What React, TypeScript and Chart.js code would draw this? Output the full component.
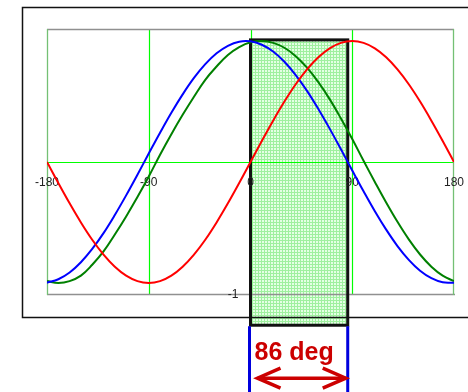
import React, { useEffect, useRef } from "react";
import { Chart, registerables } from "chart.js";

Chart.register(...registerables);

// Phase angle in degrees
const angles = [
  -180, -170, -160, -150, -140, -130, -120, -110, -100, -90, -80, -70, -60, -50, -40, -30, -20, -10,
  0, 10, 20, 30, 40, 50, 60, 70, 80, 90, 100, 110, 120, 130, 140, 150, 160, 170, 180,
];

// Reference wave (red)
const sineValues = [
  0, -0.174, -0.342, -0.5, -0.643, -0.766, -0.866, -0.94, -0.985, -1, -0.985, -0.94, -0.866, -0.766,
  -0.643, -0.5, -0.342, -0.174, 0, 0.174, 0.342, 0.5, 0.643, 0.766, 0.866, 0.94, 0.985, 1, 0.985,
  0.94, 0.866, 0.766, 0.643, 0.5, 0.342, 0.174, 0,
];

// Leading wave (blue)
const leadValues = [
  -0.998, -0.97, -0.914, -0.829, -0.719, -0.588, -0.438, -0.276, -0.105, 0.07, 0.242, 0.407, 0.559,
  0.695, 0.809, 0.899, 0.961, 0.995, 0.998, 0.97, 0.914, 0.829, 0.719, 0.588, 0.438, 0.276, 0.105,
  -0.07, -0.242, -0.407, -0.559, -0.695, -0.809, -0.899, -0.961, -0.995, -0.998,
];

// Lagging wave (green)
const lagValues = [
  -0.985, -1, -0.985, -0.94, -0.85, -0.74, -0.6, -0.45, -0.29, -0.12, 0.06, 0.23, 0.39, 0.54, 0.68,
  0.79, 0.885, 0.95, 0.99, 1, 0.985, 0.945, 0.875, 0.78, 0.66, 0.52, 0.36, 0.19, 0.01, -0.165, -0.335,
  -0.495, -0.64, -0.765, -0.866, -0.94, -0.985,
];

const xTickLabels = [-180, -90, 0, 90, 180];
const xGridLines = [-90, 0, 90];
const yGridLines = [0];
const xMin = -180;
const xMax = 180;
const yMin = -1.1;
const yMax = 1.1;

// Highlighted phase window
const windowStart = 0;
const windowEnd = 86;
const windowTop = 1.01;
const windowBottom = -1.35;
const windowLabel = "86 deg";

const LABEL_FONT = '12px "Liberation Sans", Arial, sans-serif';

function makeHatch(ctx: CanvasRenderingContext2D): CanvasPattern | string {
  const tile = document.createElement("canvas");
  tile.width = 3;
  tile.height = 3;
  const t = tile.getContext("2d");
  if (!t) return "#ccf8cc";
  t.fillStyle = "#e4ffe4";
  t.fillRect(0, 0, 3, 3);
  t.fillStyle = "#9ff09f";
  t.fillRect(0, 0, 3, 1);
  t.fillRect(0, 0, 1, 3);
  return ctx.createPattern(tile, "repeat") || "#ccf8cc";
}

const backgroundPlugin = {
  id: "phaseBackground",
  beforeDatasetsDraw(chart: any) {
    const { ctx, chartArea } = chart;
    const xs = chart.scales.x;
    const ys = chart.scales.y;
    const { left, right, top, bottom } = chartArea;
    const x0 = xs.getPixelForValue(windowStart);
    const x1 = xs.getPixelForValue(windowEnd);
    const yT = ys.getPixelForValue(windowTop);
    const yB = ys.getPixelForValue(windowBottom);

    ctx.save();
    // hatched window
    ctx.fillStyle = makeHatch(ctx);
    ctx.fillRect(x0, yT, x1 - x0, yB - yT);

    // grid
    ctx.strokeStyle = "#00ff00";
    ctx.lineWidth = 1.2;
    xGridLines.forEach((v) => {
      const px = Math.round(xs.getPixelForValue(v)) + 0.5;
      ctx.beginPath();
      ctx.moveTo(px, top);
      ctx.lineTo(px, bottom);
      ctx.stroke();
    });
    yGridLines.forEach((v) => {
      const py = Math.round(ys.getPixelForValue(v)) + 0.5;
      ctx.beginPath();
      ctx.moveTo(left, py);
      ctx.lineTo(right, py);
      ctx.stroke();
    });

    // plot border
    ctx.strokeStyle = "#909090";
    ctx.lineWidth = 1.3;
    ctx.beginPath();
    ctx.moveTo(left, Math.round(top) + 0.5);
    ctx.lineTo(right, Math.round(top) + 0.5);
    ctx.moveTo(left, Math.round(bottom) - 0.5);
    ctx.lineTo(right + 1, Math.round(bottom) - 0.5);
    ctx.stroke();
    ctx.strokeStyle = "#74c074";
    ctx.beginPath();
    ctx.moveTo(Math.round(left) + 0.5, top);
    ctx.lineTo(Math.round(left) + 0.5, bottom);
    ctx.moveTo(Math.round(right) - 0.5, top);
    ctx.lineTo(Math.round(right) - 0.5, bottom);
    ctx.stroke();

    // outer frame
    ctx.strokeStyle = "#111111";
    ctx.lineWidth = 1.5;
    ctx.beginPath();
    ctx.moveTo(chart.width + 2, 7.5);
    ctx.lineTo(22.5, 7.5);
    ctx.lineTo(22.5, 317.5);
    ctx.lineTo(chart.width + 2, 317.5);
    ctx.stroke();

    // window outline
    ctx.strokeStyle = "#111111";
    ctx.lineWidth = 3;
    ctx.strokeRect(x0, yT, x1 - x0, yB - yT);

    // tick labels
    ctx.fillStyle = "#222222";
    ctx.font = LABEL_FONT;
    ctx.textAlign = "center";
    ctx.textBaseline = "middle";
    const labelY = ys.getPixelForValue(0) + 21;
    xTickLabels.forEach((v) => {
      ctx.fillText(String(v), xs.getPixelForValue(v), labelY);
    });
    ctx.textAlign = "right";
    ctx.fillText(String(Math.trunc(yMin)), xs.getPixelForValue(0) - 12, ys.getPixelForValue(yMin));
    ctx.restore();
  },
  afterDatasetsDraw(chart: any) {
    const { ctx } = chart;
    const xs = chart.scales.x;
    const ys = chart.scales.y;
    const x0 = xs.getPixelForValue(windowStart);
    const x1 = xs.getPixelForValue(windowEnd);
    const yB = ys.getPixelForValue(windowBottom);

    ctx.save();
    // span markers
    ctx.strokeStyle = "#0000dd";
    ctx.lineWidth = 3;
    ctx.beginPath();
    ctx.moveTo(x0 - 1, yB + 1);
    ctx.lineTo(x0 - 1, chart.height + 2);
    ctx.moveTo(x1, yB + 1);
    ctx.lineTo(x1, chart.height + 2);
    ctx.stroke();

    // span label
    ctx.fillStyle = "#cc0000";
    ctx.font = 'bold 25px "Liberation Sans", Arial, sans-serif';
    ctx.textAlign = "left";
    ctx.textBaseline = "alphabetic";
    ctx.fillText(windowLabel, x0 + 4, yB + 35);

    // double arrow
    const ay = yB + 53;
    const ax0 = x0 + 7;
    const ax1 = x1 - 2;
    ctx.strokeStyle = "#cc0000";
    ctx.lineWidth = 3.5;
    ctx.lineCap = "butt";
    ctx.lineJoin = "miter";
    ctx.beginPath();
    ctx.moveTo(ax0, ay);
    ctx.lineTo(ax1, ay);
    ctx.stroke();
    ctx.beginPath();
    ctx.moveTo(ax0 + 23, ay - 10);
    ctx.lineTo(ax0, ay);
    ctx.lineTo(ax0 + 23, ay + 10);
    ctx.moveTo(ax1 - 23, ay - 10);
    ctx.lineTo(ax1, ay);
    ctx.lineTo(ax1 - 23, ay + 10);
    ctx.stroke();
    ctx.restore();
  },
};

export default function App() {
  const canvasRef = useRef<HTMLCanvasElement | null>(null);

  useEffect(() => {
    const canvas = canvasRef.current;
    if (!canvas) return;
    const toPoints = (vals: number[]) => angles.map((a, i) => ({ x: a, y: vals[i] }));
    const line = (label: string, vals: number[], color: string) => ({
      label,
      data: toPoints(vals),
      borderColor: color,
      borderWidth: 2,
      pointRadius: 0,
      tension: 0.4,
      fill: false,
    });
    const chart = new Chart(canvas, {
      type: "line",
      data: {
        datasets: [
          line("sin", sineValues, "#ff0000"),
          line("lead", leadValues, "#0000ff"),
          line("lag", lagValues, "#008000"),
        ],
      },
      options: {
        responsive: false,
        animation: false,
        devicePixelRatio: 1,
        layout: { padding: { left: 47, right: 14, top: 29, bottom: 97 } },
        plugins: { legend: { display: false }, tooltip: { enabled: false } },
        scales: {
          x: { type: "linear", min: xMin, max: xMax, display: false },
          y: { type: "linear", min: yMin, max: yMax, display: false },
        },
      },
      plugins: [backgroundPlugin],
    });
    return () => chart.destroy();
  }, []);

  return (
    <div style={{ position: "fixed", left: 0, top: 0, width: 468, height: 392, background: "#ffffff" }}>
      <canvas ref={canvasRef} width={468} height={392} />
    </div>
  );
}
